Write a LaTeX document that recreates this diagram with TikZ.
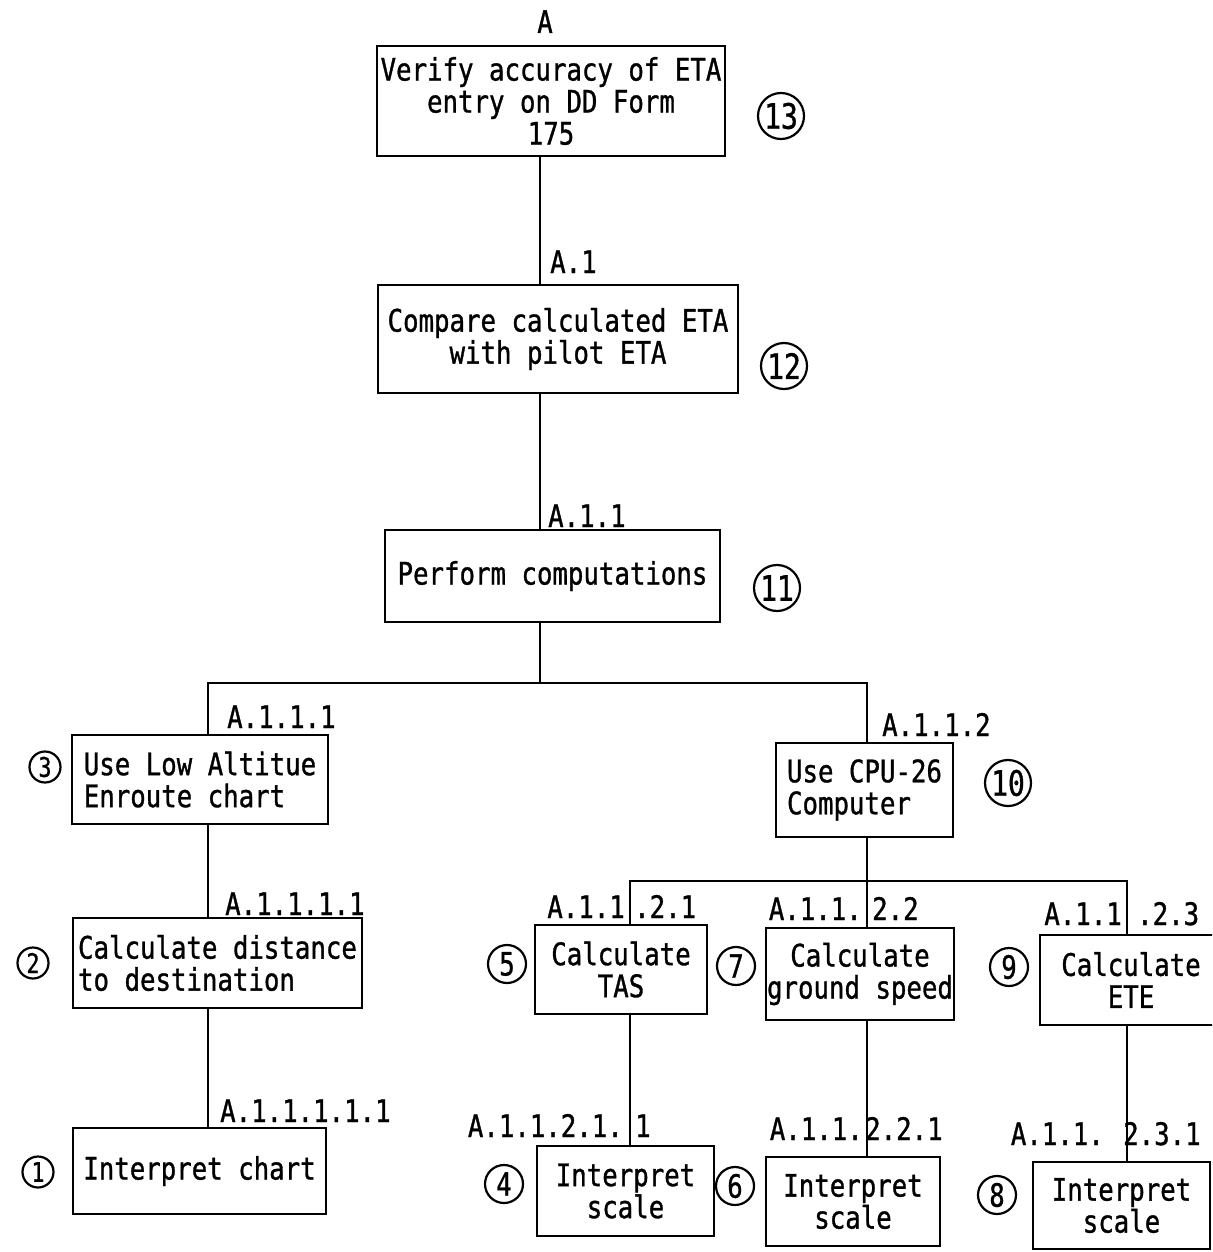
\documentclass[tikz,border=0pt]{standalone}
\usepackage{fontspec}
\newfontfamily\tw[FakeStretch=0.83,FakeBold=1]{DejaVu Sans Mono}
\newfontfamily\twn[FakeStretch=0.8,FakeBold=1]{DejaVu Sans Mono}
\begin{document}
\begin{tikzpicture}[x=1pt,y=-1pt,
  every node/.style={font=\tw\fontsize{31}{32}\selectfont},
  box/.style={draw, line width=2.3pt, inner sep=1pt, align=center},
  lbl/.style={inner sep=0pt},
  num/.style={circle, draw, line width=2.2pt, minimum size=38pt, inner sep=0pt, font=\twn\fontsize{32}{32}\selectfont},
  bignum/.style={num, minimum size=46pt, font=\twn\fontsize{35}{35}\selectfont},
  smallnum/.style={num, minimum size=31pt, font=\twn\fontsize{27}{27}\selectfont},
  conn/.style={line width=2.3pt}]
\useasboundingbox (0,0) rectangle (1212,1252);
\clip (0,0) rectangle (1212,1252);
% column / bar coordinates
\coordinate (cA) at (540,0);
\coordinate (cL) at (208,0);
\coordinate (cR) at (867,0);
\coordinate (cT) at (630,0);
\coordinate (cE) at (1127,0);
\coordinate (h1) at (0,683);
\coordinate (h2) at (0,881);
% boxes
\node[box, minimum width=348pt, minimum height=110pt] (a) at (551,101) {Verify accuracy of ETA\\entry on DD Form\\175};
\node[box, minimum width=360pt, minimum height=108pt] (a1) at (558,339) {Compare calculated ETA\\with pilot ETA};
\node[box, minimum width=335pt, minimum height=92pt] (a11) at (552.5,576) {Perform computations};
\node[box, align=left, minimum width=256pt, minimum height=89pt] (a111) at (200,779.5) {Use Low Altitue\\Enroute chart};
\node[box, align=left, minimum width=289pt, minimum height=90pt] (a1111) at (217.5,963) {Calculate distance\\to destination};
\node[box, minimum width=253pt, minimum height=86pt] (a11111) at (199.5,1171) {Interpret chart};
\node[box, align=left, minimum width=177pt, minimum height=94pt] (a112) at (864.5,790) {Use CPU-26\\Computer};
\node[box, minimum width=172pt, minimum height=89pt] (tas) at (621,969.5) {Calculate\\TAS};
\node[box, minimum width=188pt, minimum height=92pt] (gs) at (860,974) {Calculate\\ground speed};
\node[box, minimum width=182pt, minimum height=90pt] (ete) at (1131,980) {Calculate\\ETE};
\node[box, minimum width=177pt, minimum height=90pt] (is1) at (625.5,1191) {Interpret\\scale};
\node[box, minimum width=174pt, minimum height=89pt] (is2) at (853,1201.5) {Interpret\\scale};
\node[box, minimum width=177pt, minimum height=87pt] (is3) at (1121.5,1205.5) {Interpret\\scale};
% connectors
\draw[conn] (cA |- a.south) -- (cA |- a1.north);
\draw[conn] (cA |- a1.south) -- (cA |- a11.north);
\draw[conn] (cA |- a11.south) -- (cA |- h1);
\draw[conn] (cL |- a111.north) |- (cR |- h1) -- (cR |- a112.north);
\draw[conn] (cL |- a111.south) -- (cL |- a1111.north);
\draw[conn] (cL |- a1111.south) -- (cL |- a11111.north);
\draw[conn] (cR |- a112.south) -- (cR |- gs.north);
\draw[conn] (cT |- tas.north) |- (cE |- h2) -- (cE |- ete.north);
\draw[conn] (cT |- tas.south) -- (cT |- is1.north);
\draw[conn] (cR |- gs.south) -- (cR |- is2.north);
\draw[conn] (cE |- ete.south) -- (cE |- is3.north);
% labels
\node[lbl, anchor=base] (lA) at (545,33) {A};
\node[lbl, anchor=base west] (lA1) at (550,273) {A.1};
\node[lbl, anchor=base west] (lA11) at (548,527) {A.1.1};
\node[lbl, anchor=base west] (lA111) at (227,728) {A.1.1.1};
\node[lbl, anchor=base west] (lA112) at (882,736) {A.1.1.2};
\node[lbl, anchor=base west] (lA1111) at (225,915) {A.1.1.1.1};
\node[lbl, anchor=base west] (lA11111) at (220,1122) {A.1.1.1.1.1};
\node[lbl, anchor=base east] (lT1a) at (625,918) {A.1.1};
\node[lbl, anchor=base west] (lT1b) at (634,918) {.2.1};
\node[lbl, anchor=base east] (lG1a) at (862,920) {A.1.1.};
\node[lbl, anchor=base west] (lG1b) at (872,920) {2.2};
\node[lbl, anchor=base east] (lE1a) at (1122,925) {A.1.1};
\node[lbl, anchor=base west] (lE1b) at (1137,925) {.2.3};
\node[lbl, anchor=base east] (lT2a) at (623,1137) {A.1.1.2.1.};
\node[lbl, anchor=base west] (lT2b) at (635,1137) {1};
\node[lbl, anchor=base east] (lG2a) at (863,1140) {A.1.1.};
\node[lbl, anchor=base west] (lG2b) at (865,1140) {2.2.1};
\node[lbl, anchor=base east] (lE2a) at (1104,1145) {A.1.1.};
\node[lbl, anchor=base west] (lE2b) at (1123,1145) {2.3.1};
% circled numbers
\node[bignum] (n13) at (781,116) {13};
\node[bignum] (n12) at (784,366) {12};
\node[bignum] (n11) at (777,588) {11};
\node[bignum] (n10) at (1008,783) {10};
\node[smallnum] (n3) at (45,767) {3};
\node[smallnum] (n2) at (33,963) {2};
\node[smallnum] (n1) at (38,1172) {1};
\node[num] (n5) at (507,964) {5};
\node[num] (n7) at (736,966) {7};
\node[num] (n9) at (1009,967) {9};
\node[num] (n4) at (504,1184) {4};
\node[num] (n6) at (735,1186) {6};
\node[num] (n8) at (997,1195) {8};
\end{tikzpicture}
\end{document}
